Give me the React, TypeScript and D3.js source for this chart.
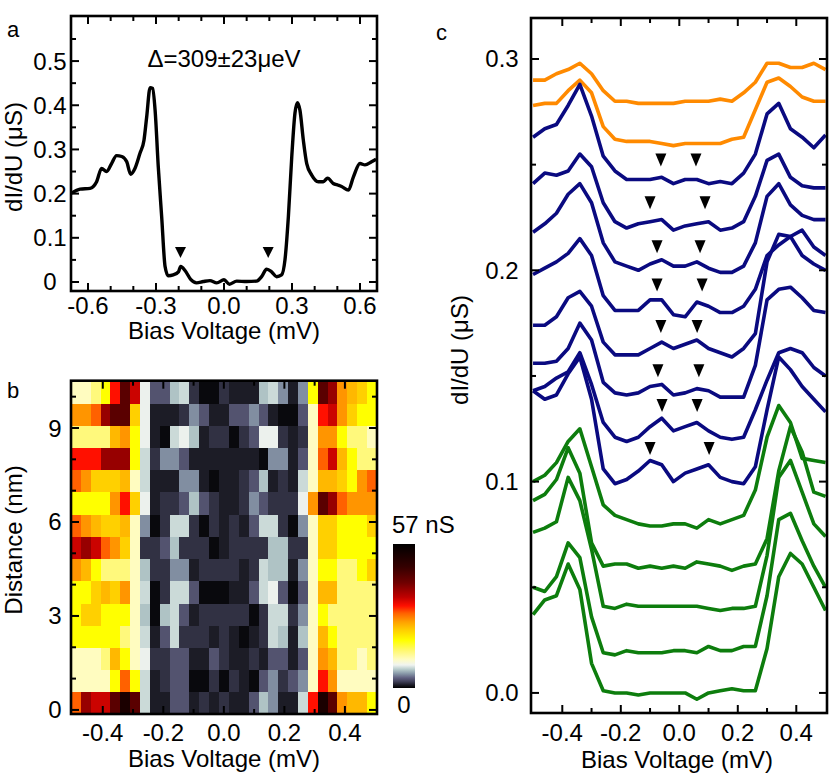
import React from 'react';
import * as d3 from 'd3';

const FONT = "'Liberation Sans', Arial, Helvetica, sans-serif";

// ---------- panel a : averaged spectrum ----------
const biasA = [
  -0.672, -0.635, -0.591, -0.562, -0.54, -0.518, -0.496, -0.474, -0.451, -0.429, -0.412, -0.393,
  -0.371, -0.353, -0.341, -0.326, -0.315, -0.304, -0.29, -0.275, -0.26, -0.246, -0.224, -0.201,
  -0.191, -0.172, -0.147, -0.121, -0.091, -0.062, -0.032, 0.0, 0.024, 0.056, 0.1, 0.144, 0.166,
  0.188, 0.21, 0.232, 0.254, 0.269, 0.284, 0.299, 0.313, 0.324, 0.335, 0.35, 0.365, 0.387, 0.416,
  0.438, 0.457, 0.482, 0.504, 0.519, 0.549, 0.571, 0.6, 0.622, 0.651, 0.671,
];
const dIdUA = [
  0.201, 0.21, 0.212, 0.227, 0.257, 0.25, 0.268, 0.286, 0.284, 0.272, 0.244, 0.257,
  0.291, 0.321, 0.374, 0.44, 0.438, 0.389, 0.261, 0.148, 0.035, 0.014, 0.016, 0.023,
  0.035, 0.026, 0.006, -0.002, 0.001, 0.003, -0.002, 0.005, -0.005, 0.002, 0.001, 0.002, 0.012,
  0.029, 0.023, 0.012, 0.016, 0.05, 0.148, 0.284, 0.382, 0.406, 0.389, 0.321, 0.268, 0.242, 0.227,
  0.227, 0.235, 0.223, 0.219, 0.216, 0.208, 0.238, 0.268, 0.265, 0.272, 0.278,
];
const markAX = [-0.192, 0.195];
const markAY = 0.067;

// ---------- panel b : conductance map ----------
const biasB = [
  -0.489, -0.456, -0.424, -0.391, -0.359, -0.326, -0.294, -0.261, -0.228, -0.196, -0.163,
  -0.131, -0.098, -0.065, -0.033, 0.0, 0.033, 0.065, 0.098, 0.131, 0.163, 0.196, 0.228,
  0.261, 0.294, 0.326, 0.359, 0.391, 0.424, 0.456, 0.489,
];
const distB = [
  0.225, 0.934, 1.643, 2.352, 3.061, 3.77, 4.479, 5.188, 5.897, 6.606, 7.315, 8.024, 8.733, 9.442, 10.151,
];
const row0 = [29.6, 38.8, 35.3, 35.3, 43.9, 52.4, 43.9, 8, 1.2, 1.2, 3.4, 3.4, 1.2, 2, 1.2, 2, 1.2, 1.2, 3.4, 7.1, 5.4, 1.2, 1.2, 8, 32.5, 52.4, 43.9, 26.8, 24.5, 24.5, 18.8];
const row1 = [11.4, 11.4, 11.4, 11.4, 18.8, 29.6, 18.8, 8, 1.2, 2, 3.4, 3.4, 0.4, 0.4, 2, 0.4, 2, 1.2, 0.4, 3.4, 5.4, 2, 3.4, 5.4, 11.4, 32.5, 26.8, 11.4, 11.4, 11.4, 11.4];
const row2 = [11.4, 11.4, 11.4, 14.3, 24.5, 18.8, 11.4, 9, 2, 2, 3.4, 3.4, 1.2, 1.2, 3.4, 2, 1.2, 1.2, 2, 1.2, 3.4, 3.4, 1.2, 3.4, 11.4, 26.8, 24.5, 14.3, 14.3, 11.4, 14.3];
const row3 = [18.8, 18.8, 18.8, 18.8, 18.8, 14.3, 11.4, 8, 1.2, 3.4, 8, 2, 2, 2, 1.2, 2, 1.2, 0.4, 1.2, 2, 8, 7.1, 1.2, 7.1, 11.4, 24.5, 18.8, 14.3, 14.3, 14.3, 14.3];
const row4 = [18.8, 22.8, 22.8, 18.8, 18.8, 18.8, 11.4, 7.1, 0.4, 7.1, 8, 3.4, 1.2, 2, 2, 2, 2, 2, 0.4, 2, 8, 8, 2, 5.4, 11.4, 18.8, 14.3, 14.3, 14.3, 14.3, 14.3];
const row5 = [18.8, 18.8, 22.8, 24.5, 22.8, 26.8, 11.4, 8, 0.4, 2, 8, 8, 3.4, 0.4, 0.4, 0.4, 1.2, 1.2, 3.4, 8, 9, 3.4, 0.4, 3.4, 11.4, 24.5, 24.5, 14.3, 14.3, 14.3, 14.3];
const row6 = [26.8, 24.5, 18.8, 14.3, 14.3, 14.3, 11.4, 7.1, 2, 2, 5.4, 5.4, 1.2, 2, 2, 2, 2, 1.2, 2, 8, 7.1, 7.1, 1.2, 5.4, 11.4, 18.8, 18.8, 14.3, 14.3, 18.8, 22.8];
const row7 = [35.3, 38.8, 35.3, 29.6, 26.8, 22.8, 11.4, 2, 2, 3.4, 7.1, 2, 2, 2, 0.4, 1.2, 2, 2, 2, 2, 7.1, 7.1, 2, 2, 11.4, 22.8, 22.8, 18.8, 18.8, 18.8, 18.8];
const row8 = [29.6, 26.8, 24.5, 22.8, 22.8, 24.5, 11.4, 5.4, 0.4, 2, 8, 8, 2, 0.4, 2, 1.2, 2, 1.2, 3.4, 8, 8, 2, 0.4, 5.4, 11.4, 22.8, 22.8, 18.8, 18.8, 18.8, 22.8];
const row9 = [18.8, 18.8, 18.8, 18.8, 26.8, 32.5, 22.8, 9, 1.2, 2, 2, 3.4, 7.1, 3.4, 2, 1.2, 1.2, 2, 5.4, 3.4, 2, 2, 2, 9, 26.8, 43.9, 38.8, 29.6, 26.8, 26.8, 26.8];
const row10 = [29.6, 26.8, 22.8, 22.8, 22.8, 24.5, 11.4, 8, 1.2, 1.2, 1.2, 5.4, 5.4, 1.2, 0.4, 1.2, 1.2, 2, 3.4, 7.1, 1.2, 2, 1.2, 8, 11.4, 24.5, 24.5, 22.8, 18.8, 26.8, 29.6];
const row11 = [32.5, 32.5, 32.5, 38.8, 38.8, 38.8, 18.8, 8, 2, 5.4, 5.4, 3.4, 1.2, 1.2, 1.2, 1.2, 1.2, 1.2, 1.2, 0.4, 5.4, 5.4, 1.2, 3.4, 11.4, 29.6, 35.3, 24.5, 18.8, 14.3, 14.3];
const row12 = [14.3, 14.3, 14.3, 14.3, 24.5, 26.8, 18.8, 9, 1.2, 0.4, 8, 9, 7.1, 1.2, 2, 2, 0.4, 2, 3.4, 9, 9, 2, 1.2, 2, 11.4, 26.8, 26.8, 18.8, 14.3, 14.3, 11.4];
const row13 = [26.8, 26.8, 29.6, 38.8, 43.9, 43.9, 22.8, 9, 1.2, 1.2, 1.2, 2, 5.4, 3.4, 1.2, 1.2, 3.4, 3.4, 5.4, 3.4, 1.2, 0.4, 0.4, 3.4, 11.4, 32.5, 35.3, 26.8, 22.8, 18.8, 18.8];
const row14 = [11.4, 11.4, 14.3, 18.8, 32.5, 43.9, 35.3, 9, 3.4, 3.4, 7.1, 8, 2, 0.4, 0.4, 2, 1.2, 1.2, 1.2, 7.1, 8, 5.4, 1.2, 5.4, 18.8, 43.9, 38.8, 26.8, 24.5, 22.8, 18.8];
const heatRows = [row0, row1, row2, row3, row4, row5, row6, row7, row8, row9, row10, row11, row12, row13, row14];
const heatMax = 57;
const cmapStops = [0, 0.02, 0.045, 0.07, 0.1, 0.13, 0.16, 0.2, 0.26, 0.33, 0.4, 0.46, 0.52, 0.57, 0.63, 0.73, 0.84, 1];
const cmapColors = [
  '#000000', '#1a1a24', '#404058', '#606080', '#8898a8', '#b8cccc', '#f0f4f0', '#fffcc0', '#fff870',
  '#ffff00', '#ffd000', '#ffa000', '#ff6000', '#ff1000', '#c00000', '#700000', '#350000', '#000000',
];

// ---------- panel c : spectra along the line ----------
const biasC = [
  -0.5, -0.46, -0.42, -0.38, -0.34, -0.3, -0.26, -0.22, -0.18, -0.14, -0.1, -0.06, -0.02,
  0.02, 0.06, 0.1, 0.14, 0.18, 0.22, 0.26, 0.3, 0.34, 0.38, 0.42, 0.46, 0.5,
];
const cO1 = [0.29, 0.29, 0.293, 0.295, 0.298, 0.293, 0.285, 0.28, 0.28, 0.279, 0.279, 0.279, 0.279, 0.28, 0.28, 0.28, 0.281, 0.28, 0.284, 0.289, 0.298, 0.298, 0.296, 0.296, 0.298, 0.295];
const cO2 = [0.278, 0.279, 0.279, 0.285, 0.29, 0.284, 0.268, 0.262, 0.261, 0.261, 0.261, 0.26, 0.259, 0.26, 0.26, 0.26, 0.26, 0.262, 0.263, 0.276, 0.289, 0.291, 0.287, 0.282, 0.28, 0.28];
const cN1 = [0.263, 0.267, 0.269, 0.278, 0.288, 0.273, 0.254, 0.247, 0.243, 0.243, 0.243, 0.244, 0.241, 0.243, 0.243, 0.241, 0.242, 0.241, 0.246, 0.255, 0.274, 0.279, 0.267, 0.263, 0.258, 0.264];
const cN2 = [0.241, 0.246, 0.245, 0.247, 0.255, 0.249, 0.232, 0.223, 0.22, 0.222, 0.223, 0.224, 0.219, 0.221, 0.222, 0.223, 0.219, 0.22, 0.223, 0.235, 0.252, 0.255, 0.244, 0.24, 0.239, 0.239];
const cN3 = [0.218, 0.222, 0.227, 0.236, 0.241, 0.232, 0.213, 0.204, 0.202, 0.2, 0.203, 0.205, 0.202, 0.202, 0.204, 0.201, 0.199, 0.199, 0.202, 0.213, 0.235, 0.241, 0.231, 0.226, 0.224, 0.224];
const cN4 = [0.198, 0.201, 0.204, 0.208, 0.215, 0.207, 0.188, 0.181, 0.181, 0.181, 0.186, 0.186, 0.179, 0.178, 0.185, 0.183, 0.18, 0.18, 0.183, 0.191, 0.207, 0.212, 0.216, 0.219, 0.211, 0.207];
const cN5 = [0.174, 0.174, 0.178, 0.187, 0.19, 0.183, 0.166, 0.16, 0.16, 0.16, 0.163, 0.166, 0.163, 0.165, 0.167, 0.163, 0.161, 0.159, 0.163, 0.17, 0.204, 0.217, 0.216, 0.207, 0.203, 0.2];
const cN6 = [0.156, 0.156, 0.157, 0.163, 0.175, 0.167, 0.147, 0.142, 0.141, 0.142, 0.145, 0.146, 0.141, 0.142, 0.144, 0.143, 0.14, 0.14, 0.14, 0.155, 0.186, 0.191, 0.192, 0.187, 0.181, 0.18];
const cN7 = [0.143, 0.145, 0.149, 0.152, 0.161, 0.146, 0.128, 0.121, 0.119, 0.121, 0.126, 0.13, 0.124, 0.126, 0.128, 0.124, 0.121, 0.12, 0.121, 0.134, 0.148, 0.161, 0.163, 0.161, 0.154, 0.15];
const cN8 = [0.143, 0.139, 0.141, 0.151, 0.159, 0.139, 0.106, 0.099, 0.101, 0.105, 0.11, 0.108, 0.1, 0.104, 0.106, 0.108, 0.102, 0.1, 0.099, 0.107, 0.134, 0.159, 0.153, 0.145, 0.139, 0.133];
const cG1 = [0.1, 0.103, 0.109, 0.119, 0.125, 0.107, 0.089, 0.084, 0.082, 0.08, 0.079, 0.079, 0.08, 0.08, 0.078, 0.082, 0.08, 0.082, 0.084, 0.096, 0.121, 0.136, 0.128, 0.111, 0.11, 0.109];
const cG2 = [0.091, 0.094, 0.101, 0.116, 0.104, 0.071, 0.06, 0.061, 0.061, 0.059, 0.06, 0.059, 0.06, 0.059, 0.062, 0.061, 0.06, 0.058, 0.06, 0.061, 0.073, 0.105, 0.126, 0.114, 0.095, 0.093];
const cG3 = [0.076, 0.078, 0.081, 0.102, 0.091, 0.068, 0.041, 0.04, 0.042, 0.041, 0.041, 0.041, 0.041, 0.041, 0.041, 0.04, 0.039, 0.04, 0.04, 0.041, 0.065, 0.102, 0.11, 0.095, 0.08, 0.074];
const cG4 = [0.05, 0.048, 0.055, 0.071, 0.064, 0.036, 0.019, 0.018, 0.02, 0.019, 0.019, 0.019, 0.02, 0.02, 0.019, 0.022, 0.02, 0.02, 0.022, 0.022, 0.046, 0.082, 0.085, 0.072, 0.06, 0.05];
const cG5 = [0.037, 0.044, 0.046, 0.061, 0.049, 0.014, 0.001, 0.0, 0.0, -0.001, 0.0, 0.0, 0.0, 0.0, -0.003, 0.0, 0.001, 0.002, 0.001, 0.001, 0.021, 0.055, 0.066, 0.061, 0.05, 0.039];
const orangeCurves = [cO1, cO2];
const navyCurves = [cN1, cN2, cN3, cN4, cN5, cN6, cN7, cN8];
const greenCurves = [cG1, cG2, cG3, cG4, cG5];
// triangle markers over the navy spectra
const markCLeft = [-0.063, -0.1, -0.076, -0.076, -0.063, -0.073, -0.059, -0.1];
const markCRight = [0.057, 0.088, 0.071, 0.078, 0.061, 0.067, 0.061, 0.102];
const markCY = [0.2522, 0.232, 0.2112, 0.1931, 0.1734, 0.1525, 0.136, 0.1157];

type Lin = d3.ScaleLinear<number, number>;

function Box({ x, y, xMajor, xMinor, yMajor, yMinor }: {
  x: Lin; y: Lin; xMajor: number[]; xMinor: number[]; yMajor: number[]; yMinor: number[];
}) {
  const [x0, x1] = x.range();
  const [yb, yt] = y.range();
  const segs: number[][] = [];
  const add = (vals: number[], len: number) => vals.forEach(v => {
    segs.push([x(v), yb, x(v), yb - len]);
    segs.push([x(v), yt, x(v), yt + len]);
  });
  const addY = (vals: number[], len: number) => vals.forEach(v => {
    segs.push([x0, y(v), x0 + len, y(v)]);
    segs.push([x1, y(v), x1 - len, y(v)]);
  });
  add(xMajor, 8); add(xMinor, 5); addY(yMajor, 8); addY(yMinor, 5);
  return (
    <g stroke="#000" fill="none">
      {segs.map((s, i) => <line key={i} x1={s[0]} y1={s[1]} x2={s[2]} y2={s[3]} strokeWidth={2} />)}
      <rect x={x0} y={yt} width={x1 - x0} height={yb - yt} strokeWidth={2.6} />
    </g>
  );
}

const tri = (cx: number, cy: number, w: number, h: number) =>
  `M${cx - w / 2},${cy - h / 2}L${cx + w / 2},${cy - h / 2}L${cx},${cy + h / 2}Z`;

const fmt = (v: number) => d3.format('.1f')(v).replace('−', '-');

export default function App() {
  // panel a
  const ax = d3.scaleLinear().domain([-0.675, 0.675]).range([71, 377]);
  const ay = d3.scaleLinear().domain([-0.0204, 0.602]).range([291, 16]);
  const lineA = d3.line<number>().x((_, i) => ax(biasA[i])).y(d => ay(d)).curve(d3.curveMonotoneX);

  // panel b
  const bx = d3.scaleLinear().domain([-0.505, 0.506]).range([71, 377]);
  const by = d3.scaleLinear().domain([-0.13, 10.51]).range([714, 380.7]);
  const colStep = biasB[1] - biasB[0];
  const rowStep = distB[1] - distB[0];
  const color = d3.scaleLinear<string>().domain(cmapStops.map(s => s * heatMax)).range(cmapColors).clamp(true);

  // panel c
  const cx = d3.scaleLinear().domain([-0.507, 0.505]).range([531, 827]);
  const cy = d3.scaleLinear().domain([-0.0095, 0.3194]).range([713, 18]);
  const lineC = d3.line<number>().x((_, i) => cx(biasC[i])).y(d => cy(d));

  const fs = 24;
  return (
    <div style={{ position: 'absolute', left: 0, top: 0 }}>
      <svg width={830} height={774} style={{ display: 'block', background: '#fff' }} fontFamily={FONT}>
        <defs>
          <linearGradient id="cbar" x1="0" y1="1" x2="0" y2="0">
            {cmapStops.map((s, i) => <stop key={i} offset={s} stopColor={cmapColors[i]} />)}
          </linearGradient>
        </defs>

        {/* ---------- panel a ---------- */}
        <text x={7} y={37} fontSize={22}>a</text>
        <path d={lineA(dIdUA) || ''} fill="none" stroke="#000" strokeWidth={3.4} strokeLinejoin="round" />
        {markAX.map((m, i) => <path key={i} d={tri(ax(m), ay(markAY), 11, 11)} fill="#000" />)}
        <text x={224} y={67} fontSize={fs} textAnchor="middle">Δ=309±23μeV</text>
        <Box x={ax} y={ay} xMajor={[-0.6, -0.3, 0, 0.3, 0.6]} xMinor={[-0.5, -0.4, -0.2, -0.1, 0.1, 0.2, 0.4, 0.5]}
          yMajor={[0, 0.1, 0.2, 0.3, 0.4, 0.5]} yMinor={[0.05, 0.15, 0.25, 0.35, 0.45, 0.55]} />
        {[0, 0.1, 0.2, 0.3, 0.4, 0.5].map(v => (
          <text key={v} x={50} y={ay(v) + 8.5} fontSize={fs} textAnchor="middle">{v === 0 ? '0' : fmt(v)}</text>
        ))}
        {[-0.6, -0.3, 0, 0.3, 0.6].map(v => (
          <text key={v} x={ax(v)} y={314} fontSize={fs} textAnchor="middle">{fmt(v)}</text>
        ))}
        <text x={224} y={339} fontSize={fs} textAnchor="middle">Bias Voltage (mV)</text>
        <text transform="translate(22,157) rotate(-90)" fontSize={fs} textAnchor="middle">dI/dU (μS)</text>

        {/* ---------- panel b ---------- */}
        <text x={7} y={398} fontSize={22}>b</text>
        <g shapeRendering="crispEdges">
          {heatRows.map((row, r) => row.map((v, c) => {
            const xl = bx(biasB[c] - colStep / 2);
            const xr = bx(biasB[c] + colStep / 2);
            const yt = by(distB[r] + rowStep / 2);
            const ybm = by(distB[r] - rowStep / 2);
            return <rect key={`${r}-${c}`} x={xl} y={yt} width={xr - xl + 0.6} height={ybm - yt + 0.6} fill={color(v)} />;
          }))}
        </g>
        <Box x={bx} y={by} xMajor={[-0.4, -0.2, 0, 0.2, 0.4]} xMinor={[-0.3, -0.1, 0.1, 0.3]}
          yMajor={[0, 3, 6, 9]} yMinor={[1, 2, 4, 5, 7, 8, 10]} />
        {[0, 3, 6, 9].map(v => (
          <text key={v} x={55} y={by(v) + 8.5} fontSize={fs} textAnchor="middle">{v}</text>
        ))}
        {[-0.4, -0.2, 0, 0.2, 0.4].map(v => (
          <text key={v} x={bx(v)} y={741} fontSize={fs} textAnchor="middle">{fmt(v)}</text>
        ))}
        <text x={224} y={767} fontSize={fs} textAnchor="middle">Bias Voltage (mV)</text>
        <text transform="translate(22,540) rotate(-90)" fontSize={fs} textAnchor="middle">Distance (nm)</text>
        {/* colour bar */}
        <rect x={393} y={544} width={22} height={144} fill="url(#cbar)" />
        <text x={392} y={533} fontSize={fs}>{`${heatMax} nS`}</text>
        <text x={404} y={713} fontSize={fs} textAnchor="middle">0</text>

        {/* ---------- panel c ---------- */}
        <text x={436} y={40} fontSize={22}>c</text>
        <g fill="none" strokeWidth={3.6} strokeLinejoin="round">
          {orangeCurves.map((s, i) => <path key={`o${i}`} d={lineC(s) || ''} stroke="#ff8a00" />)}
          {navyCurves.map((s, i) => <path key={`n${i}`} d={lineC(s) || ''} stroke="#0a0a80" />)}
          {greenCurves.map((s, i) => <path key={`g${i}`} d={lineC(s) || ''} stroke="#0d7d0d" />)}
        </g>
        {markCY.map((v, i) => (
          <g key={i} fill="#000">
            <path d={tri(cx(markCLeft[i]), cy(v), 11, 13)} />
            <path d={tri(cx(markCRight[i]), cy(v), 11, 13)} />
          </g>
        ))}
        <Box x={cx} y={cy} xMajor={[-0.4, -0.2, 0, 0.2, 0.4]} xMinor={[-0.3, -0.1, 0.1, 0.3]}
          yMajor={[0, 0.1, 0.2, 0.3]} yMinor={[0.05, 0.15, 0.25]} />
        {[0, 0.1, 0.2, 0.3].map(v => (
          <text key={v} x={502} y={cy(v) + 8.5} fontSize={fs} textAnchor="middle">{fmt(v)}</text>
        ))}
        {[-0.4, -0.2, 0, 0.2, 0.4].map(v => (
          <text key={v} x={cx(v)} y={741} fontSize={fs} textAnchor="middle">{fmt(v)}</text>
        ))}
        <text x={677} y={768} fontSize={fs} textAnchor="middle">Bias Voltage (mV)</text>
        <text transform="translate(468,350) rotate(-90)" fontSize={fs} textAnchor="middle">dI/dU (μS)</text>
      </svg>
    </div>
  );
}
